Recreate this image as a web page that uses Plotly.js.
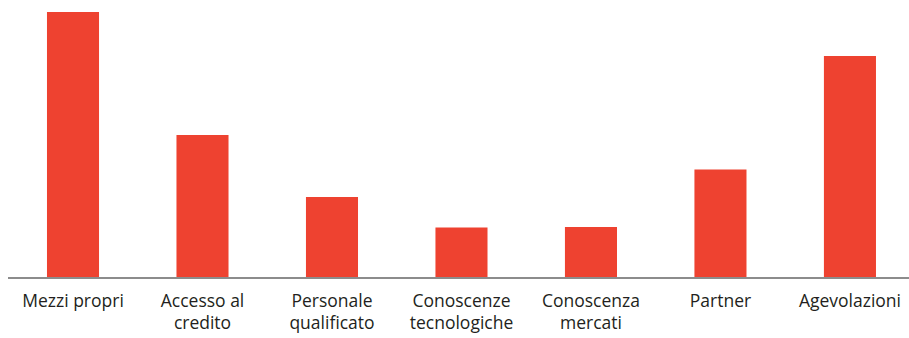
<!DOCTYPE html>
<html>
<head>
<meta charset="utf-8">
<script src="https://cdn.plot.ly/plotly-3.0.1.min.js"></script>
<style>
  html, body { margin: 0; padding: 0; background: #ffffff; }
  #chart { width: 909px; height: 338px; }
</style>
</head>
<body>
<div id="chart"></div>
<script>
// Ostacoli / fattori citati (valori in %)
const categories = [
  "Mezzi propri",
  "Accesso al<br>credito",
  "Personale<br>qualificato",
  "Conoscenze<br>tecnologiche",
  "Conoscenza<br>mercati",
  "Partner",
  "Agevolazioni"
];
const values = [53, 28.4, 16, 9.9, 10, 21.5, 44.2];

const trace = {
  type: "bar",
  x: categories,
  y: values,
  marker: { color: "#ee4230", line: { width: 0 } },
  hoverinfo: "x+y"
};

const layout = {
  width: 909,
  height: 338,
  margin: { l: 8, r: 0, t: 12, b: 61 },
  paper_bgcolor: "#ffffff",
  plot_bgcolor: "#ffffff",
  bargap: 0.598,
  showlegend: false,
  font: { family: "Open Sans, Noto Sans, sans-serif", size: 17.5, color: "#231f20" },
  xaxis: {
    range: [-0.502, 6.456],
    showgrid: false,
    zeroline: false,
    showline: true,
    linecolor: "#8c8c8c",
    linewidth: 1.5,
    ticks: "",
    tickangle: 0,
    ticklabelstandoff: 7,
    tickfont: { size: 17.5, color: "#231f20" },
    fixedrange: true
  },
  yaxis: {
    range: [0, 53],
    visible: false,
    showgrid: false,
    zeroline: false,
    fixedrange: true
  }
};

Plotly.newPlot("chart", [trace], layout, { displayModeBar: false, staticPlot: true });
</script>
</body>
</html>
